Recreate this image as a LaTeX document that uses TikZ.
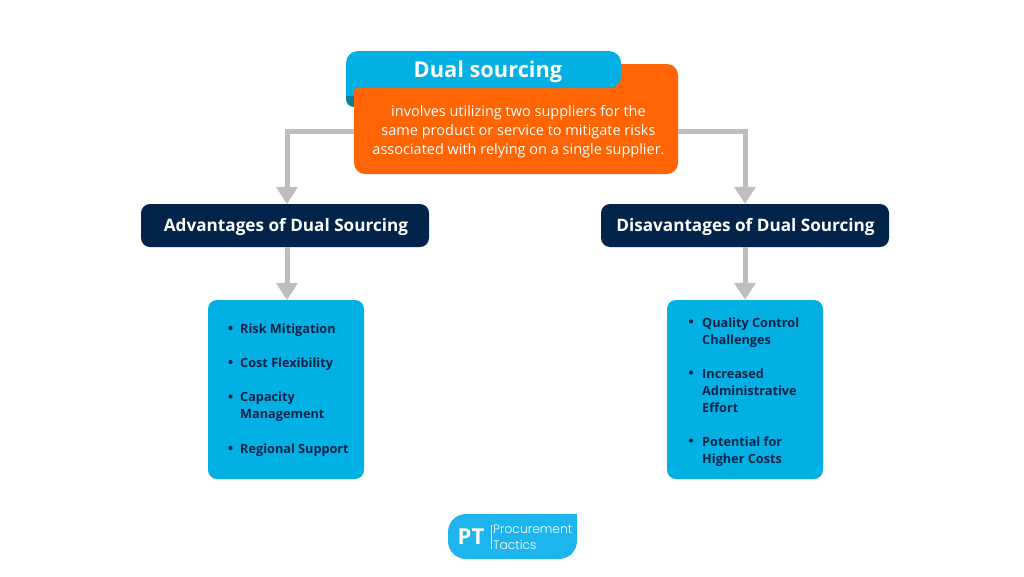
\documentclass[tikz,border=0pt]{standalone}
\usepackage{fontspec}
\setmainfont{Open Sans}
\newfontfamily\logofont{Poppins Light}
\definecolor{skyblue}{HTML}{02B0E4}
\definecolor{foldteal}{HTML}{0A7F9C}
\definecolor{hotorange}{HTML}{FF6505}
\definecolor{deepnavy}{HTML}{02244A}
\definecolor{connectgray}{HTML}{BEBEBE}
\definecolor{logoblue}{HTML}{1EB4EE}
\usetikzlibrary{arrows.meta}
\tikzset{
  x=1pt,y=-1pt,
  flow/.style={draw=connectgray,line width=5pt,-{Triangle[length=17pt,width=21pt]}},
  headbox/.style={fill=deepnavy,rounded corners=9pt,minimum width=288pt,minimum height=43pt,inner sep=0pt,text=white,font=\bfseries\fontsize{17.15}{20}\selectfont},
  listbox/.style={fill=skyblue,rounded corners=9pt,minimum width=156pt,minimum height=179pt,inner sep=0pt},
  item/.style={anchor=north west,inner sep=0pt,align=left,text=deepnavy,font=\bfseries\fontsize{12.7}{17}\selectfont},
  dot/.style={circle,fill=deepnavy,inner sep=0pt,minimum size=4.2pt},
}
\begin{document}
\begin{tikzpicture}
\useasboundingbox (0,0) rectangle (1024,576);
\fill[white] (0,0) rectangle (1024,576);

% ribbon fold and shadow
\fill[foldteal,rounded corners=8pt] (346,70) -- (346,107) -- (372,107) -- (372,70) -- cycle;
\fill[foldteal,rounded corners=10pt] (590,66) -- (622,66) -- (622,90) -- (590,90) -- cycle;

% boxes
\node[fill=hotorange,rounded corners=11pt,minimum width=324pt,minimum height=110pt,inner sep=0pt] (desc) at (516,119) {};
\node[fill=skyblue,rounded corners=12pt,minimum width=275pt,minimum height=37pt,inner sep=0pt] (title) at (483.5,69.5) {};
\fill[skyblue] (346,70) rectangle (354,96);
\fill[hotorange,rounded corners=9pt] (354,120) -- (354,88) -- (400,88) -- (400,120) -- cycle;
\fill[skyblue] (346,70) -- (346,96) .. controls (348,91) and (351,89) .. (358,88) -- (358,70) -- cycle;

\node[text=white,font=\bfseries\fontsize{21.8}{26}\selectfont] (titletext) at (488,72) {Dual sourcing};
\node[text=white,align=center,font=\fontsize{14.5}{19.2}\selectfont] (desctext) at (518.5,131.7)
  {involves utilizing two suppliers for the\\same product or service to mitigate risks\\associated with relying on a single supplier.};

\node[headbox] (adv) at (285,225.5) {};
\node[headbox] (dis) at (745,225.5) {};
\node[text=white,font=\bfseries\fontsize{17.15}{20}\selectfont] (advtext) at (286,227) {Advantages of Dual Sourcing};
\node[text=white,font=\bfseries\fontsize{17.15}{20}\selectfont] (distext) at (745.5,227) {Disavantages of Dual Sourcing};
\node[listbox] (advlist) at (286,389.5) {};
\node[listbox] (dislist) at (745,389.5) {};

% connectors
\coordinate (lbend) at (287,131);
\coordinate (rbend) at (745,131);
\coordinate (advin) at (287,204);
\coordinate (advout) at (287,247);
\coordinate (advtgt) at (287,300);
\draw[flow] (lbend -| desc.west) -- (lbend) -- (advin);
\draw[flow] (rbend -| desc.east) -- (rbend) -- (dis.north);
\draw[flow] (advout) -- (advtgt);
\draw[flow] (dis.south) -- (dislist.north);

% left list
\node[dot] (a1d) at (230.5,328) {};
\node[item] (a1) at (240,323.9) {Risk Mitigation};
\node[dot] (a2d) at (230.5,362) {};
\node[item] (a2) at (240,358) {Cost Flexibility};
\node[dot] (a3d) at (230.5,396.5) {};
\node[item] (a3) at (240,392) {Capacity\\Management};
\node[dot] (a4d) at (230.5,448) {};
\node[item] (a4) at (240,443.4) {Regional Support};

% right list
\node[dot] (d1d) at (691,321.5) {};
\node[item] (d1) at (702,317.2) {Quality Control\\Challenges};
\node[dot] (d2d) at (691,372.5) {};
\node[item] (d2) at (702,368.2) {Increased\\Administrative\\Effort};
\node[dot] (d3d) at (691,440.5) {};
\node[item] (d3) at (702,436.2) {Potential for\\Higher Costs};

% logo
\fill[logoblue,rounded corners=18pt] (577,514) [sharp corners] -- (577,530) [rounded corners=18pt] -- (577,559) -- (448,559) -- (448,514) [sharp corners] -- (560,514) -- cycle;
\node[text=white,font=\bfseries\fontsize{22}{24}\selectfont] (pt) at (471,537) {PT};
\draw[white,line width=0.5pt] (491.5,525) -- (491.5,549);
\node[anchor=west,inner sep=0pt,text=white,font=\logofont\fontsize{12.3}{14}\selectfont] (lg1) at (493,529.5) {Procurement};
\node[anchor=west,inner sep=0pt,text=white,font=\logofont\fontsize{12.3}{14}\selectfont] (lg2) at (493,545) {Tactics};
\end{tikzpicture}
\end{document}
